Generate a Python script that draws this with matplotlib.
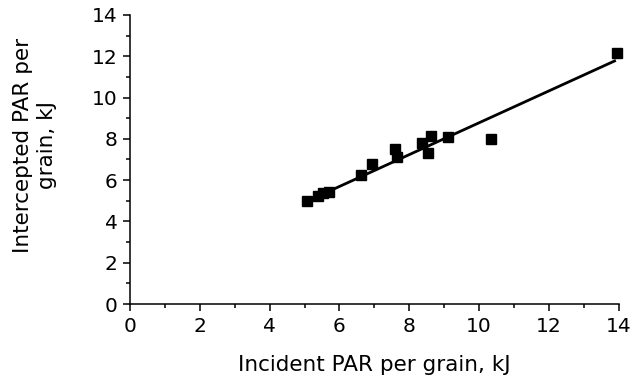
import matplotlib
matplotlib.use('Agg')
import matplotlib.pyplot as plt
from matplotlib.ticker import MultipleLocator

plt.rcParams['font.family'] = ['DejaVu Sans']

# Data
incident = [5.07, 5.39, 5.53, 5.69, 6.61, 6.94, 7.60, 7.66, 8.35, 8.53, 8.61, 9.12, 10.34, 13.95]
intercepted = [4.98, 5.23, 5.39, 5.44, 6.25, 6.77, 7.51, 7.14, 7.79, 7.33, 8.15, 8.11, 7.99, 12.15]

# Regression line end points
line_x = [5.1, 13.88]
line_y = [5.0, 11.77]

fig = plt.figure(figsize=(6.34, 3.82), dpi=100)
ax = fig.add_axes([0.205, 0.204, 0.771, 0.757])

ax.plot(line_x, line_y, color='black', lw=2, zorder=2)
ax.plot(incident, intercepted, 's', color='black', ms=7.5, zorder=3, clip_on=False)

ax.set_xlim(0, 14)
ax.set_ylim(0, 14)
ax.xaxis.set_major_locator(MultipleLocator(2))
ax.xaxis.set_minor_locator(MultipleLocator(1))
ax.yaxis.set_major_locator(MultipleLocator(2))
ax.yaxis.set_minor_locator(MultipleLocator(1))

for s in ['top', 'right']:
    ax.spines[s].set_visible(False)
for s in ['left', 'bottom']:
    ax.spines[s].set_linewidth(1.1)
ax.tick_params(which='major', direction='out', length=5, width=1.1, labelsize=14.5, pad=4)
ax.tick_params(which='minor', direction='out', length=3, width=1.1)

ax.set_xlabel('Incident PAR per grain, kJ', fontsize=15.5, labelpad=14)
ax.set_ylabel('Intercepted PAR per\ngrain, kJ', fontsize=15.5)
ax.yaxis.set_label_coords(-0.15, 0.55)

fig.savefig('out.png', dpi=100)
